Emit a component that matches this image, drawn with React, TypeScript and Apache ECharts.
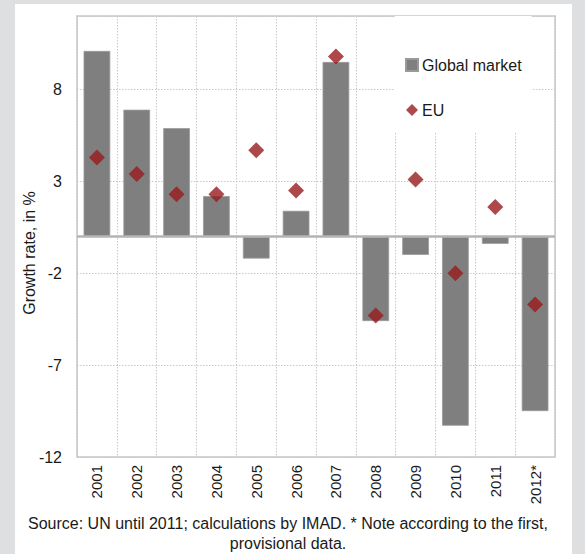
import React, { useEffect, useRef } from "react";
import * as echarts from "echarts";

const categories = ["2001", "2002", "2003", "2004", "2005", "2006", "2007", "2008", "2009", "2010", "2011", "2012*"];
const globalMarket = [10.1, 6.9, 5.9, 2.2, -1.2, 1.4, 9.5, -4.6, -1.0, -10.3, -0.4, -9.5];
const eu = [4.3, 3.4, 2.3, 2.3, 4.7, 2.5, 9.8, -4.3, 3.1, -2.0, 1.6, -3.7];
const yAxisName = "Growth rate, in %";
const footnoteLines = [
  "Source: UN until 2011; calculations by IMAD. * Note according to the first,",
  "provisional data.",
];

const FONT = "'Liberation Sans', Arial, sans-serif";

export default function App() {
  const ref = useRef<HTMLDivElement>(null);
  useEffect(() => {
    if (!ref.current) return;
    const chart = echarts.init(ref.current, undefined, { renderer: "svg" });
    chart.setOption({
      animation: false,
      backgroundColor: "#dedfe1",
      textStyle: { fontFamily: FONT },
      graphic: [
        { type: "rect", z: -10, shape: { x: 15, y: 4, width: 557, height: 560 }, style: { fill: "#ffffff" } },
        {
          type: "text",
          x: 29,
          y: 253,
          rotation: Math.PI / 2,
          style: { text: yAxisName, fill: "#1a1a1a", font: `16px ${FONT}`, textAlign: "center", textVerticalAlign: "middle" },
        },
        {
          type: "text",
          x: 288,
          y: 523,
          style: { text: footnoteLines[0], fill: "#1a1a1a", font: `16px ${FONT}`, textAlign: "center", textVerticalAlign: "middle" },
        },
        {
          type: "text",
          x: 288,
          y: 543,
          style: { text: footnoteLines[1], fill: "#1a1a1a", font: `16px ${FONT}`, textAlign: "center", textVerticalAlign: "middle" },
        },
      ],
      legend: {
        orient: "vertical",
        left: 395,
        top: 16,
        width: 113,
        backgroundColor: "#ffffff",
        padding: [41, 10, 14, 10],
        itemGap: 29,
        itemWidth: 12,
        itemHeight: 12,
        textStyle: { fontSize: 16, color: "#1a1a1a", fontFamily: FONT, padding: [0, 0, 0, -1] },
        data: [
          { name: "Global market", icon: "rect" },
          { name: "EU", icon: "diamond" },
        ],
      },
      grid: {
        left: 77,
        top: 16,
        width: 478,
        height: 441,
        show: true,
        borderColor: "#c6c6c6",
        borderWidth: 1.5,
        containLabel: false,
      },
      xAxis: {
        type: "category",
        data: categories,
        boundaryGap: true,
        axisLine: { show: false },
        axisTick: { show: false },
        axisLabel: { rotate: 90, fontSize: 15, color: "#1a1a1a", margin: 8, fontFamily: FONT },
        splitLine: { show: true, interval: 0, lineStyle: { color: "#c8c8c8", type: [1.5, 1.5], width: 1 } },
      },
      yAxis: {
        type: "value",
        min: -12,
        max: 12,
        interval: 5,
        axisLine: { show: false },
        axisTick: { show: false },
        axisLabel: { fontSize: 16, color: "#1a1a1a", margin: 15, showMaxLabel: false, fontFamily: FONT },
        splitLine: { show: true, lineStyle: { color: "#c8c8c8", type: [1.5, 1.5], width: 1 } },
      },
      series: [
        {
          name: "Global market",
          type: "bar",
          data: globalMarket,
          barWidth: "67%",
          itemStyle: { color: "#7f7f7f", borderColor: "#9a9a9a", borderWidth: 0.8 },
          markLine: {
            silent: true,
            symbol: "none",
            label: { show: false },
            lineStyle: { color: "#b4b4b4", width: 2.5, type: "solid" },
            data: [{ yAxis: 0 }],
          },
        },
        {
          name: "EU",
          type: "scatter",
          data: eu,
          symbol: "diamond",
          symbolSize: [16, 16],
          itemStyle: { color: "#981b1e" },
          z: 5,
        },
      ],
    });
    return () => chart.dispose();
  }, []);
  return (
    <div style={{ position: "absolute", left: 0, top: 0, width: 585, height: 554 }}>
      <div ref={ref} style={{ width: 585, height: 554 }} />
    </div>
  );
}
